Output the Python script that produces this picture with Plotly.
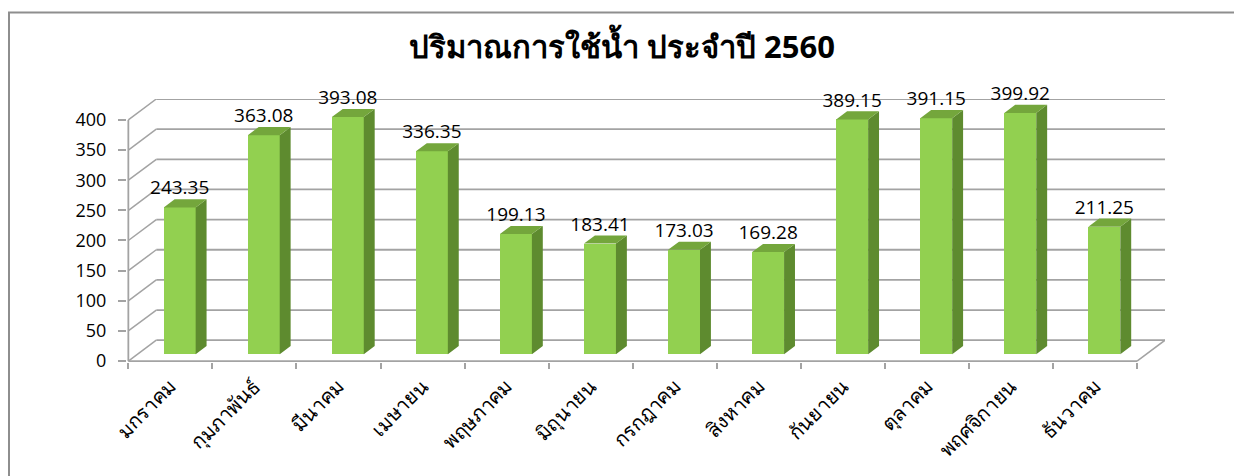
import plotly.graph_objects as go

# ---------------- data ----------------
months = ["มกราคม", "กุมภาพันธ์", "มีนาคม", "เมษายน", "พฤษภาคม", "มิถุนายน",
          "กรกฎาคม", "สิงหาคม", "กันยายน", "ตุลาคม", "พฤศจิกายน", "ธันวาคม"]
usage = [243.35, 363.08, 393.08, 336.35, 199.13, 183.41,
         173.03, 169.28, 389.15, 391.15, 399.92, 211.25]
y_ticks = [0, 50, 100, 150, 200, 250, 300, 350, 400]
title_text = "ปริมาณการใช้น้ำ ประจำปี 2560"

# ---------------- geometry / style ----------------
OFF = 8                      # page body margin of the html page
W, H = 1242 - OFF, 476 - OFF
ML, MT = 127 - OFF, 99 - OFF
MR = W - (1165 - OFF)
MB = H - (362 - OFF)
n = len(months)
DX = 0.3327          # depth offset in category units
DY = 34.65           # depth offset in value units
F0 = 1 / 3           # depth of bar front face
FD = 0.39            # bar depth fraction
BW = 0.38            # bar width (category units)
YMAX = max(y_ticks)
GRID = "#A3A3A3"
FRONT, SIDE, TOP = "#92D050", "#5E8B2F", "#74A63C"
FONT = "Open Sans, Noto Sans, sans-serif"

xs = [i + F0 * DX for i in range(n)]
base = F0 * DY

fig = go.Figure()

# front faces
fig.add_trace(go.Bar(x=xs, y=usage, base=[base] * n, width=BW,
                     marker=dict(color=FRONT, line=dict(width=0)),
                     hoverinfo="skip", showlegend=False))

# side faces & top faces
sx, sy, tx, ty = [], [], [], []
for x, v in zip(xs, usage):
    xl, xr = x - BW / 2, x + BW / 2
    ddx, ddy = FD * DX, FD * DY
    top = base + v
    sx += [xr, xr + ddx, xr + ddx, xr, xr, None]
    sy += [base, base + ddy, top + ddy, top, base, None]
    tx += [xl, xr, xr + ddx, xl + ddx, xl, None]
    ty += [top, top, top + ddy, top + ddy, top, None]
fig.add_trace(go.Scatter(x=sx, y=sy, mode="lines", fill="toself", fillcolor=SIDE,
                         line=dict(width=0, color=SIDE), hoverinfo="skip", showlegend=False))
fig.add_trace(go.Scatter(x=tx, y=ty, mode="lines", fill="toself", fillcolor=TOP,
                         line=dict(width=0, color=TOP), hoverinfo="skip", showlegend=False))

# data labels
fig.add_trace(go.Scatter(x=xs, y=[base + v + FD * DY for v in usage], mode="text",
                         text=[f"{v:.2f}" for v in usage], textposition="top center",
                         textfont=dict(family=FONT, size=19, color="#000000"),
                         cliponaxis=False,
                         hoverinfo="skip", showlegend=False, xaxis="x2"))

# walls / gridlines (shapes below traces)
shapes = []
x_left, x_right = -0.5, n - 0.5
for v in y_ticks:
    shapes.append(dict(type="line", xref="x", yref="y", layer="below",
                       x0=x_left + DX, x1=x_right + DX, y0=v + DY, y1=v + DY,
                       line=dict(color=GRID, width=1.8)))
    shapes.append(dict(type="line", xref="x", yref="y", layer="below",
                       x0=x_left, x1=x_left + DX, y0=v, y1=v + DY,
                       line=dict(color=GRID, width=1.5)))
# floor front edge, right floor edge, vertical axis line
shapes.append(dict(type="line", xref="x", yref="y", layer="below",
                   x0=x_left, x1=x_right, y0=0, y1=0, line=dict(color=GRID, width=1.8)))
shapes.append(dict(type="line", xref="x", yref="y", layer="below",
                   x0=x_right, x1=x_right + DX, y0=0, y1=DY, line=dict(color=GRID, width=1.5)))
shapes.append(dict(type="line", xref="x", yref="y", layer="below",
                   x0=x_left, x1=x_left, y0=0, y1=YMAX, line=dict(color=GRID, width=1.8)))

# chart border
pw, ph = W - ML - MR, H - MT - MB
def px_x(p): return (p - ML) / pw
def px_y(p): return (H - MB - p) / ph
shapes.append(dict(type="rect", xref="paper", yref="paper", layer="below",
                   x0=px_x(1), x1=px_x(1300), y0=px_y(500), y1=px_y(12.5 - OFF),
                   line=dict(color="#8E8E8E", width=2), fillcolor="rgba(0,0,0,0)"))

xr0 = x_left - 0.016
xrange = [xr0, x_right + DX]
fig.update_layout(
    width=W, height=H,
    margin=dict(l=ML, r=MR, t=MT, b=MB, autoexpand=False),
    paper_bgcolor="white", plot_bgcolor="white",
    shapes=shapes,
    bargap=0,
    title=dict(text=title_text, x=(622 - OFF) / W, xref="container", xanchor="center",
               y=1 - (47 - OFF) / H, yref="container", yanchor="middle", automargin=False,
               font=dict(family=FONT, size=31, color="#000000", weight="bold")),
    xaxis=dict(range=xrange, tickmode="array", tickvals=list(range(n)), ticktext=months,
               tickangle=-45, ticks="", showgrid=False, zeroline=False, showline=False,
               automargin=False, ticklabelstandoff=8,
               tickfont=dict(family=FONT, size=20, color="#000000")),
    xaxis2=dict(range=xrange, overlaying="x", anchor="y", side="bottom",
                tickmode="array", tickvals=[i - 0.5 for i in range(n + 1)],
                ticks="outside", ticklen=6, tickwidth=1.5, tickcolor=GRID,
                automargin=False,
                showticklabels=False, showgrid=False, zeroline=False, showline=False),
    yaxis=dict(range=[-1.5, YMAX + DY], tickmode="array", tickvals=y_ticks,
               ticks="outside", ticklen=8, tickwidth=1.5, tickcolor=GRID,
               ticklabelstandoff=8, automargin=False,
               showgrid=False, zeroline=False, showline=False,
               tickfont=dict(family=FONT, size=18, color="#000000")),
)

fig.write_html("out.html")
